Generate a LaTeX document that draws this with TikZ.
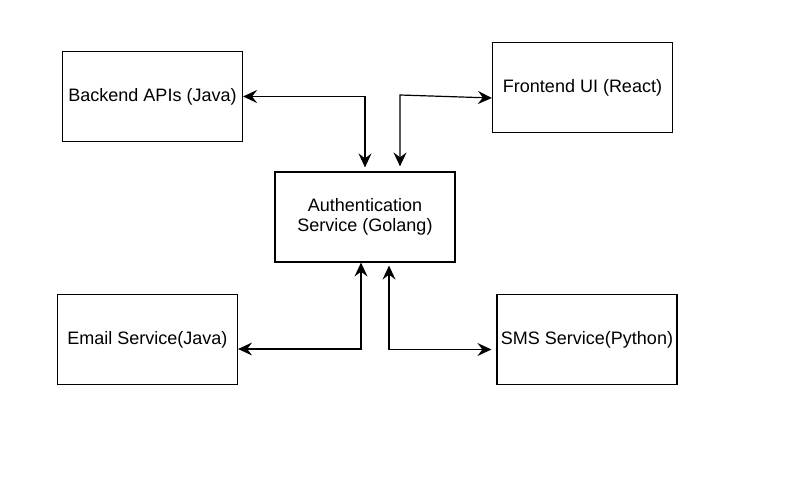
\documentclass[tikz,border=0pt]{standalone}
\usepackage{fontspec}
\setmainfont{Liberation Sans}
\usetikzlibrary{arrows.meta}

\begin{document}
\begin{tikzpicture}[x=1pt, y=-1pt,
    svc/.style={draw, line width=1.2pt, minimum width=180pt, minimum height=90pt,
      inner sep=0pt, align=center, font=\fontsize{18}{20}\selectfont},
    link/.style={draw, line width=1.2pt, {Stealth[length=14pt,width=13pt,inset=5pt]}-{Stealth[length=14pt,width=13pt,inset=5pt]}}]
  \useasboundingbox (0,0) rectangle (786,502);
  \node[svc] (backend) at (152.5,96.5) {Backend APIs (Java)};
  \node[svc] (frontend) at (582.5,87.5) {Frontend UI (React)};
  \node[svc] (auth) at (365,217) {Authentication\\Service (Golang)};
  \node[svc] (email) at (147.5,339.5) {Email Service(Java)};
  \node[svc] (sms) at (587,339.5) {SMS Service(Python)};
  \coordinate (fbend) at (400,95);
  % links to the auth service
  \draw[link] (backend.east) -| ([yshift=4pt]auth.north);
  \draw[link] ([yshift=-10.5pt]frontend.west) -- (fbend) -- ([xshift=35pt,yshift=5pt]auth.north);
  \draw[link] ([yshift=-9.5pt]email.east) -| ([xshift=-4pt]auth.south);
  \draw[link] ([xshift=-5pt,yshift=-10pt]sms.west) -| ([xshift=24pt,yshift=-3pt]auth.south);
\end{tikzpicture}
\end{document}
